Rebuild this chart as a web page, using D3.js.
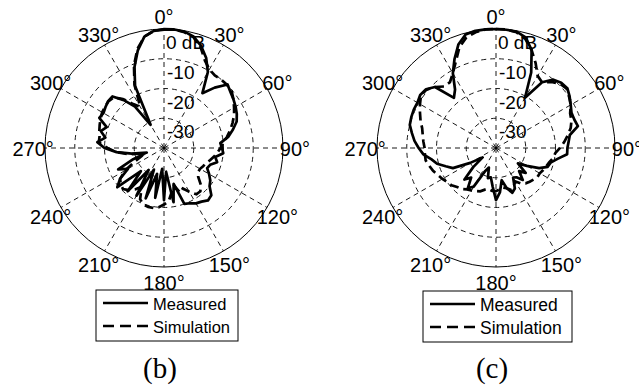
<!DOCTYPE html>
<html><head><meta charset="utf-8">
<script src="https://cdn.jsdelivr.net/npm/d3@7/dist/d3.min.js"></script>
<style>body{margin:0;background:#fff}svg{display:block}</style>
</head><body>
<svg id="chart" width="639" height="388"></svg>
<script>
// angle (degrees, clockwise from top)
const angles = [0,5,10,15,20,25,30,35,40,45,50,55,60,65,70,75,80,85,90,95,100,105,110,115,
  120,125,130,135,140,145,150,155,160,165,170,175,180,185,190,195,200,205,210,215,220,225,230,235,
  240,245,250,255,260,265,270,275,280,285,290,295,300,305,310,315,320,325,330,335,340,345,350,355];

// (b) gains in dB
const bMeasured = [-0.2,0,-0.3,-1.3,-3.5,-6.5,-10.5,-17.5,-13.5,-9.8,-10.8,-11.5,-12.2,-13,-14,-16,-18,-21,
  -20.5,-20,-22.5,-21.5,-23.5,-24,-22.5,-21,-20,-17.5,-17,-18,-18.5,-19.5,-20,-27.5,-21.5,-32,
  -22.5,-33,-23,-31,-22,-32,-21.5,-31,-21,-29,-19.5,-22,-26,-23,-29,-34,-29,-24,
  -20,-17.5,-20,-18,-19.5,-16,-16.5,-16,-15.5,-15.5,-19,-23,-31,-17,-11,-6,-2,-0.5];
const bSimulation = [0,0,-0.5,-1.5,-4,-7.5,-9.5,-10.2,-10,-10,-10.3,-11.5,-12.8,-14,-15.5,-17,-18.5,-20,
  -21,-22,-23,-24,-25,-25.5,-26,-26,-25,-22.5,-21,-21,-23,-25,-24,-27,-25,-22,
  -21,-20,-19.5,-19.5,-19.8,-21,-25,-23,-21.5,-20.5,-21,-22,-25,-29,-32,-33,-28,-24,
  -21,-18,-18,-17.5,-17,-16.5,-16,-15.8,-15.6,-16,-18.5,-22,-24,-16.5,-10.5,-5.5,-2,-0.5];

// (c) gains in dB
const cMeasured = [0,-0.1,-0.3,-1.5,-5,-12,-20.5,-13,-10,-9,-8.7,-9.8,-11,-12,-12,-11.5,-14.8,-15.5,
  -16,-16,-19,-21,-21.5,-24,-28,-31,-27,-29,-26,-28,-28.5,-25,-24,-26,-29,-25,
  -22.5,-27,-30,-29.5,-33,-31.5,-25,-23.5,-27,-25,-30,-34.5,-30,-24,-22,-19.5,-18,-15.5,
  -14,-12.5,-11.3,-10,-9.7,-9.5,-9.5,-8.9,-9.3,-11,-18,-16,-11,-7,-3,-0.5,0,0];
const cSimulation = [0,0,-0.5,-2,-5,-8.5,-12,-13,-11,-9.5,-9,-10,-11,-12.5,-13,-14,-15.5,-17,
  -18.5,-20,-20.5,-21.5,-22,-22.5,-23,-23,-23.5,-24,-24.5,-25.5,-27,-26,-25,-26,-26.5,-26,
  -25.5,-25.5,-26,-25.5,-24.5,-24,-23.5,-23,-22,-21.5,-20.5,-20,-19.2,-18.5,-17.5,-16.8,-16,-16,
  -16,-15.5,-15,-14.3,-13,-11.8,-10.5,-9.2,-9.5,-11,-13,-13,-11,-8,-4,-1.5,-0.5,0];

const angleTicks = [0,30,60,90,120,150,180,210,240,270,300,330];
const ringLevels = [-30,-20,-10];
const rTickLevels = [-30,-20,-10,0];
const rTickLabels = ["-30","-20","-10","0 dB"];
const seriesNames = ["Measured","Simulation"];
const panelLabels = ["(b)","(c)"];

const svg = d3.select("#chart");
svg.append("rect").attr("width",639).attr("height",388).attr("fill","#fff");
const R = 119;
const r = d3.scaleLinear().domain([-40,0]).range([0,R]).clamp(true);
const toRad = d => d*Math.PI/180;
const font = "'Liberation Sans', Arial, Helvetica, sans-serif";

function panel(cx, cy, meas, sim, leg, label) {
  const g = svg.append("g").attr("transform",`translate(${cx},${cy})`);
  // spokes
  g.selectAll("line.spoke").data(angleTicks).join("line")
    .attr("x1",0).attr("y1",0)
    .attr("x2",a=>R*Math.sin(toRad(a))).attr("y2",a=>-R*Math.cos(toRad(a)))
    .attr("stroke","#000").attr("stroke-width",0.9).attr("stroke-dasharray","5,4");
  // dashed rings
  g.selectAll("circle.ring").data(ringLevels).join("circle")
    .attr("r",d=>r(d)).attr("fill","none").attr("stroke","#000")
    .attr("stroke-width",0.9).attr("stroke-dasharray","5,4");
  // outer circle
  g.append("circle").attr("r",r(0)).attr("fill","none").attr("stroke","#000").attr("stroke-width",1);
  // angle labels
  g.selectAll("text.ang").data(angleTicks).join("text")
    .attr("x",a=>1.1*R*Math.sin(toRad(a)))
    .attr("y",a=>{const c=Math.cos(toRad(a)); return -1.1*R*c + (c<-0.1?4:(Math.abs(c)<0.1?1:0));})
    .attr("text-anchor","middle").attr("dominant-baseline","central")
    .attr("font-family",font).attr("font-size",20).attr("fill","#000")
    .text(a=>a+"°");
  // radial labels
  g.selectAll("text.rl").data(rTickLevels).join("text")
    .attr("x",(d,i)=> i===3?2:3)
    .attr("y",d=>-r(d)+13.5)
    .attr("dominant-baseline","central")
    .attr("font-family",font).attr("font-size",19).attr("fill","#000")
    .text((d,i)=>rTickLabels[i]);
  // data
  const line = d3.lineRadial().angle(d=>toRad(d[0])).radius(d=>r(d[1])).curve(d3.curveLinearClosed);
  g.append("path").datum(angles.map((a,i)=>[a,meas[i]])).attr("d",line)
    .attr("fill","none").attr("stroke","#000").attr("stroke-width",2.7).attr("stroke-linejoin","round");
  g.append("path").datum(angles.map((a,i)=>[a,sim[i]])).attr("d",line)
    .attr("fill","none").attr("stroke","#000").attr("stroke-width",2.7).attr("stroke-dasharray","9,5");

  // legend
  const lg = svg.append("g").attr("transform",`translate(${leg.x},${leg.y})`);
  lg.append("rect").attr("width",leg.w).attr("height",leg.h).attr("fill","#fff").attr("stroke","#000").attr("stroke-width",1);
  seriesNames.forEach((n,i)=>{
    const y = i===0 ? 13 : 36;
    lg.append("line").attr("x1",7).attr("x2",7+leg.lineLen).attr("y1",y).attr("y2",y)
      .attr("stroke","#000").attr("stroke-width",2.7).attr("stroke-dasharray", i===0?null:"11,6");
    lg.append("text").attr("x",leg.lineLen+12).attr("y",y+1).attr("dominant-baseline","central")
      .attr("font-family",font).attr("font-size",leg.fs).attr("fill","#000").text(n);
  });
  svg.append("text").attr("x",cx-4).attr("y",378).attr("text-anchor","middle")
    .attr("font-family","'Liberation Serif','Times New Roman',serif").attr("font-size",29).attr("fill","#000")
    .text(label);
}

panel(164,148,bMeasured,bSimulation,{x:96,y:290,w:142,h:51,lineLen:45,fs:16.5},panelLabels[0]);
panel(496,148,cMeasured,cSimulation,{x:423,y:291,w:149,h:51,lineLen:45,fs:17.5},panelLabels[1]);
</script>
</body></html>
